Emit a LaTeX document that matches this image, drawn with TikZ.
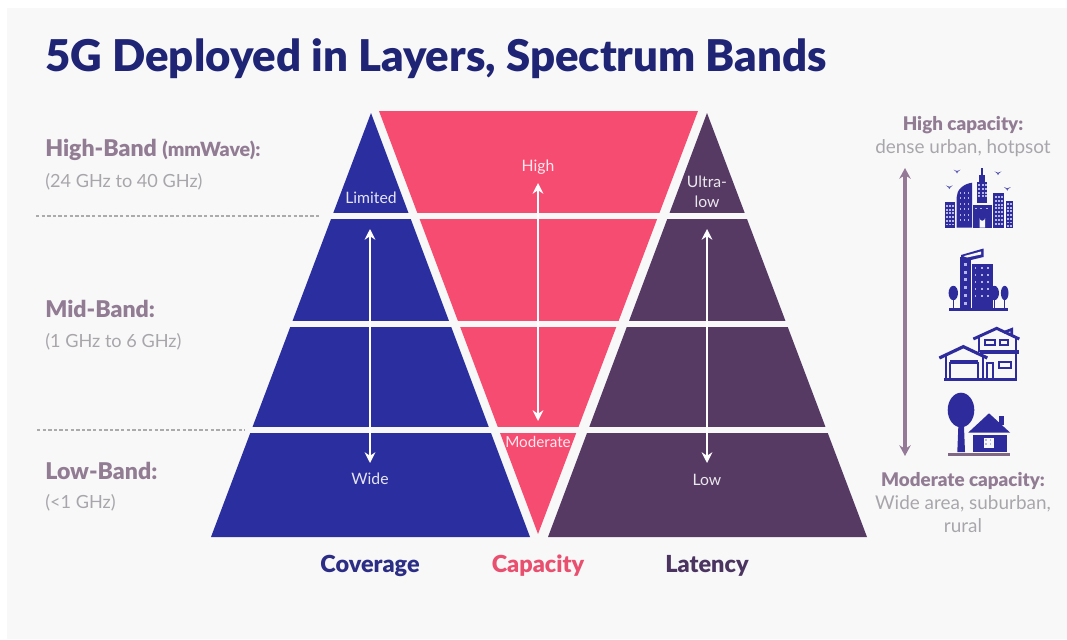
\documentclass[tikz,border=0pt]{standalone}
\usepackage{fontspec}
\setmainfont{Lato}
\newfontfamily\heavyfont{Lato Black}
\definecolor{panel}{HTML}{F8F8F9}
\definecolor{bluep}{HTML}{2B2E9E}
\definecolor{redp}{HTML}{F64C72}
\definecolor{purp}{HTML}{563A64}
\definecolor{titlec}{HTML}{1F2474}
\definecolor{bandc}{HTML}{927C93}
\definecolor{greyc}{HTML}{A9A6AB}
\definecolor{arrowc}{HTML}{957A97}
\definecolor{iconc}{HTML}{2E2C9C}
\definecolor{winc}{HTML}{B5B6EA}
\definecolor{covc}{HTML}{2C2E85}
\definecolor{capc}{HTML}{E9506F}
\definecolor{latc}{HTML}{4B3560}
\definecolor{dashc}{HTML}{ABABAB}
\newcommand{\fs}[1]{\fontsize{#1}{#1}\selectfont}
\newcommand{\wingrid}[6]{% x0,y0,dx,dy,nx,ny
  \foreach \i in {1,...,#5}{\foreach \j in {1,...,#6}{
    \fill[winc] ({#1+(\i-1)*#3},{#2+(\j-1)*#4}) rectangle ++(1.9,1.9);}}}
\usetikzlibrary{arrows.meta}
\tikzset{
  x=0.75pt,y=-0.75pt,
  inner/.style={text=white,opacity=.88,inner sep=0pt,font=\fs{11.8}},
  bandhead/.style={anchor=west,inner sep=0pt,text=bandc,font=\fs{17.3}\heavyfont},
  bandsub/.style={anchor=west,inner sep=0pt,text=greyc,font=\fs{13.6}},
  sidehead/.style={inner sep=0pt,text=bandc,font=\fs{14.1}\heavyfont},
  sidesub/.style={inner sep=0pt,text=greyc,font=\fs{14.2}},
  axis/.style={inner sep=0pt,font=\fs{17.6}\heavyfont},
  gapline/.style={draw=panel,line width=4.2pt},
  whitearrow/.style={draw=white,line width=1.9pt,{Stealth[length=8pt,width=8pt]}-{Stealth[length=8pt,width=8pt]}},
  dashline/.style={draw=dashc,line width=.9pt,dash pattern=on 2.6pt off 1.6pt},
  iconline/.style={draw=iconc,line width=1.7pt,line join=miter,fill=none},
}
\begin{document}
\begin{tikzpicture}
\useasboundingbox (0,0) rectangle (1067,639);
\fill[white] (0,0) rectangle (1067,639);
\fill[panel] (7,8) rectangle (1067,639);

% title
\node[anchor=west,inner sep=0pt,text=titlec,font=\fs{32.8}\heavyfont] (title) at (45,59) {5G Deployed in Layers, Spectrum Bands};

% pyramids
\coordinate (La) at (371,113); \coordinate (Lb) at (211,537); \coordinate (Lc) at (530,537);
\coordinate (Ra) at (707,113); \coordinate (Rb) at (548,537); \coordinate (Rc) at (867,537);
\coordinate (Ma) at (379,111); \coordinate (Mb) at (698,111); \coordinate (Mc) at (538,534);
\fill[bluep] (La) -- (Lb) -- (Lc) -- cycle;
\fill[purp] (Ra) -- (Rb) -- (Rc) -- cycle;
\fill[redp] (Ma) -- (Mb) -- (Mc) -- cycle;

% band gaps
\coordinate (g1l) at (300,216); \coordinate (g1r) at (780,216);
\coordinate (g2l) at (240,324); \coordinate (g2r) at (830,324);
\coordinate (g3l) at (245,430); \coordinate (g3r) at (840,430);
\draw[gapline] (g1l) -- (g1r);
\draw[gapline] (g2l) -- (g2r);
\draw[gapline] (g3l) -- (g3r);

% dashed extensions
\coordinate (d1a) at (36,216); \coordinate (d1b) at (320,216);
\coordinate (d2a) at (37,430); \coordinate (d2b) at (245,430);
\draw[dashline] (d1a) -- (d1b);
\draw[dashline] (d2a) -- (d2b);

% white arrows
\coordinate (a1t) at (370,229); \coordinate (a1b) at (370,463);
\coordinate (a2t) at (538,183); \coordinate (a2b) at (538,421);
\coordinate (a3t) at (707,229); \coordinate (a3b) at (707,463);
\draw[whitearrow] (a1t) -- (a1b);
\draw[whitearrow] (a2t) -- (a2b);
\draw[whitearrow] (a3t) -- (a3b);

% inner labels
\node[inner] (limited) at (371,198) {Limited};
\node[inner] (high) at (538,167) {High};
\node[inner] (ultra) at (707,182) {Ultra-};
\node[inner] (lowa) at (707,202) {low};
\node[inner,font=\fs{11.4}] (moderate) at (538,442) {Moderate};
\node[inner] (wide) at (370,479) {Wide};
\node[inner] (lowb) at (707,480) {Low};

% left labels
\node[bandhead] (hb) at (45,150) {High-Band \fs{14.7}(mmWave):};
\node[bandsub] (hbs) at (45,182) {(24 GHz to 40 GHz)};
\node[bandhead] (mb) at (45,309) {Mid-Band:};
\node[bandsub] (mbs) at (45,342) {(1 GHz to 6 GHz)};
\node[bandhead] (lb) at (45,471) {Low-Band:};
\node[bandsub] (lbs) at (45,503) {(<1 GHz)};

% axis labels
\node[axis,text=covc] (cov) at (370,566) {Coverage};
\node[axis,text=capc] (cap) at (538,566) {Capacity};
\node[axis,text=latc] (lat) at (707,566) {Latency};

% right labels
\node[sidehead] (hc) at (963,125) {High capacity:};
\node[sidesub] (hcs) at (963,148) {dense urban, hotpsot};
\node[sidehead] (mc) at (963,481) {Moderate capacity:};
\node[sidesub] (mcs) at (963,504) {Wide area, suburban,};
\node[sidesub] (mcr) at (963,526) {rural};

% right arrow
\coordinate (rt) at (905,168); \coordinate (rb) at (905,456);
\draw[draw=arrowc,line width=2.5pt,{Stealth[length=8pt,width=8.5pt]}-{Stealth[length=8pt,width=8.5pt]}] (rt) -- (rb);

% icon 1: city
\fill[iconc] (944.7,202.3) rectangle (955,227.7);
\fill[iconc] (956.7,227.7) -- (956.7,197) .. controls (956.7,190) and (963,184) .. (972,182.7) -- (972,227.7) -- cycle;
\fill[iconc] (976.7,181.7) rectangle (987.3,203);
\fill[iconc] (981,168) rectangle (982.5,176);
\fill[iconc] (979,175) rectangle (984.5,182);
\fill[iconc] (973,204.5) rectangle (992,227.7);
\fill[iconc] (993.3,193) rectangle (1004,227.7);
\fill[iconc] (1005.5,200.7) rectangle (1012.7,227.7);
\wingrid{946}{205}{2.8}{3.7}{3}{6}
\wingrid{959.5}{192}{4}{5.4}{3}{6}
\wingrid{978.4}{184}{3.2}{3.8}{3}{4}
\wingrid{975}{207.5}{5.3}{3}{3}{1}
\wingrid{995}{196}{2.9}{3.8}{3}{8}
\wingrid{1007.3}{203}{2.4}{3.7}{2}{7}
\fill[panel] (979.5,227.7) -- (979.5,218) arc[start angle=180,end angle=0,radius=2.8] -- (985.1,227.7) -- cycle;
\foreach \bx/\by in {957/171,998/172.7,949.3/186.7,1007.3/188.3}{
  \fill[iconc!80!white] (\bx-3.5,\by-1.3) -- (\bx,\by) -- (\bx+3.5,\by-1.3) -- (\bx+1,\by+.7) -- (\bx,\by+2.5) -- (\bx-1,\by+.7) -- cycle;}

% icon 2: tower
\fill[iconc] (949.3,308) rectangle (1008.3,311);
\fill[iconc] (960,257) rectangle (971,308.5);
\fill[iconc] (961,255) -- (983.5,248.5) -- (983.5,257) -- (971,260) -- (961,260) -- cycle;
\fill[panel] (963.5,256.2) -- (981,251.5) -- (981,254.5) -- (967,257.5) -- cycle;
\foreach \k in {0,...,5}{\fill[winc] (963.5,{263+\k*7.7}) rectangle (966.5,{266+\k*7.7});}
\fill[panel] (970.7,262) rectangle (972,308);
\fill[iconc] (972,264) rectangle (993.3,307.5);
\wingrid{974.5}{267}{6.2}{6.9}{3}{5}
\foreach \tx/\ty/\tr in {953.3/293/4.7,994.3/293/4.7,1004.7/293/3.8}{
  \fill[iconc] (\tx,\ty) ellipse[x radius=\tr,y radius=7.2];
  \fill[iconc] (\tx-.7,\ty+5) rectangle (\tx+.7,308);}

% icon 3: two-storey house
\begin{scope}[shift={(930,320)},x=0.25pt,y=-0.25pt]
  \draw[iconline,line width=2.2pt] (130,57) -- (200,25) -- (268,57);
  \draw[iconline,line width=2pt] (222,37) -- (245,28) -- (245,46);
  \draw[iconline] (147,50) -- (147,95);
  \draw[iconline] (257,50) -- (257,95);
  \draw[iconline] (165,60) rectangle (195,76);
  \draw[iconline] (210,60) rectangle (235,76);
  \draw[iconline,line width=2.8pt] (150,96) -- (268,96);
  \draw[iconline,line width=2.4pt] (28,114) -- (100,80) -- (172,114);
  \draw[iconline] (47,108) -- (47,178);
  \draw[iconline] (160,108) -- (160,178);
  \draw[iconline,line width=2.4pt] (60,126) -- (145,126);
  \draw[iconline] (60,126) -- (60,178);
  \draw[iconline] (145,126) -- (145,178);
  \draw[iconline] (172,178) -- (172,130) -- (190,130) -- (190,178);
  \draw[iconline] (207,125) rectangle (243,143);
  \draw[iconline] (257,100) -- (257,178);
  \draw[iconline,line width=2.4pt] (42,178) -- (262,178);
\end{scope}

% icon 4: tree and house
\fill[iconc] (961,410) ellipse[x radius=13.3,y radius=17.3];
\fill[iconc] (958.3,427) -- (964,427) -- (965,452) -- (957.3,452) -- cycle;
\fill[bandc!70!purp] (948,452.8) rectangle (1010,455.5);
\fill[iconc] (998.7,425) rectangle (1004,416);
\fill[iconc] (968.3,432.5) -- (989,413.3) -- (1010,432.5) -- cycle;
\fill[iconc] (972.7,434.5) rectangle (1007.3,452);
\fill[panel] (984.3,437.7) rectangle (994,448);
\wingrid{985.3}{438.7}{4.2}{4.2}{2}{2}
\end{tikzpicture}
\end{document}
